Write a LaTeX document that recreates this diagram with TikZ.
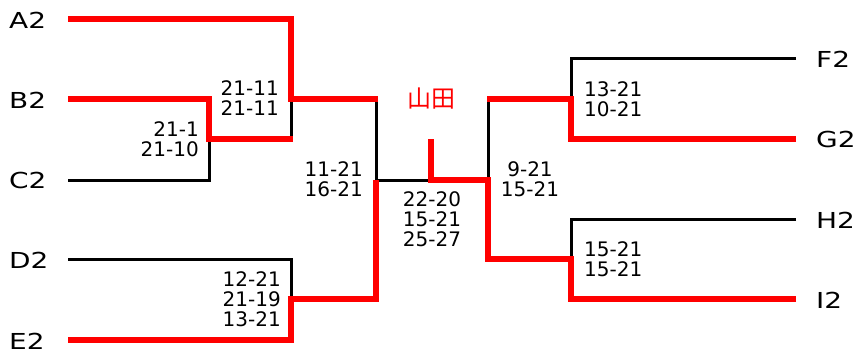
\documentclass[tikz,border=0pt]{standalone}
\usepackage{fontspec}
\setmainfont{DejaVu Sans}
\newfontfamily\namefont[FakeStretch=1.27]{DejaVu Sans}
\newfontfamily\jpfont{Noto Sans CJK JP}
\begin{document}
\begin{tikzpicture}[x=1pt,y=-1pt,
    win/.style={red, line width=6pt},
    lose/.style={black, line width=3pt},
    player/.style={font=\namefont\fontsize{22}{22}\selectfont, inner sep=0},
    score/.style={font=\fontsize{20}{20}\selectfont, inner sep=0}]

                \useasboundingbox (0,0) rectangle (856,353);
                % players
                \node[player, anchor=west] (A2) at (9,20) {A2};
                \node[player, anchor=west] (B2) at (9,100) {B2};
                \node[player, anchor=west] (C2) at (9,180) {C2};
                \node[player, anchor=west] (D2) at (9,260) {D2};
                \node[player, anchor=west] (E2) at (9,341) {E2};
                \node[player, anchor=west] (F2) at (816,59) {F2};
                \node[player, anchor=west] (G2) at (816,139) {G2};
                \node[player, anchor=west] (H2) at (816,220) {H2};
                \node[player, anchor=west] (I2) at (816,300) {I2};
                \coordinate (a) at (68,19);
                \coordinate (b) at (68,99);
                \coordinate (c) at (68,180);
                \coordinate (d) at (68,259);
                \coordinate (e) at (68,340);
                \coordinate (f) at (796,59);
                \coordinate (g) at (796,139);
                \coordinate (h) at (796,219);
                \coordinate (i) at (796,299);
                % junctions
                \coordinate (bc) at (209,139);
                \coordinate (abc) at (291,99);
                \coordinate (de) at (291,299);
                \coordinate (left) at (376,180);
                \coordinate (fg) at (571,99);
                \coordinate (hi) at (571,259);
                \coordinate (right) at (488,180);
                \coordinate (top) at (431,139);
                % lost
                \draw[lose] (c) -| (bc);
                \draw[lose] (abc) -- (abc |- bc);
                \draw[lose] (d) -| (de);
                \draw[lose] (abc) -| (left) -- (left -| top);
                \draw[lose] (f) -| (fg);
                \draw[lose] (h) -| (hi);
                \draw[lose] (fg) -| (right);
                % won
                \draw[win] (a) -| (abc) -- ([xshift=1.5pt]abc -| left);
                \draw[win] (b) -| (bc) -- ([xshift=1.5pt]bc -| abc);
                \draw[win] (e) -| (de) -| (left);
                \draw[win] (g) -| (fg) -- ([xshift=-1.5pt]fg -| right);
                \draw[win] (i) -| (hi) -| (right) -| (top);
                \node[red, font=\jpfont\fontsize{24}{24}\selectfont, inner sep=0] (name) at (431,99) {山田};
                % scores
                \node[score, align=right, anchor=east] (s1) at (199,139.5) {21-1\\21-10};
                \node[score, align=right, anchor=east] (s2) at (279,98.5) {21-11\\21-11};
                \node[score, align=right, anchor=east] (s3) at (363,179.5) {11-21\\16-21};
                \node[score, align=right, anchor=east] (s4) at (281,299.5) {12-21\\21-19\\13-21};
                \node[score, align=center] (s5) at (432,219.5) {22-20\\15-21\\25-27};
                \node[score, align=center] (s6) at (530,179.5) {9-21\\15-21};
                \node[score, align=left, anchor=west] (s7) at (584,99.5) {13-21\\10-21};
                \node[score, align=left, anchor=west] (s8) at (584,259.5) {15-21\\15-21};
            \end{tikzpicture}
\end{document}
